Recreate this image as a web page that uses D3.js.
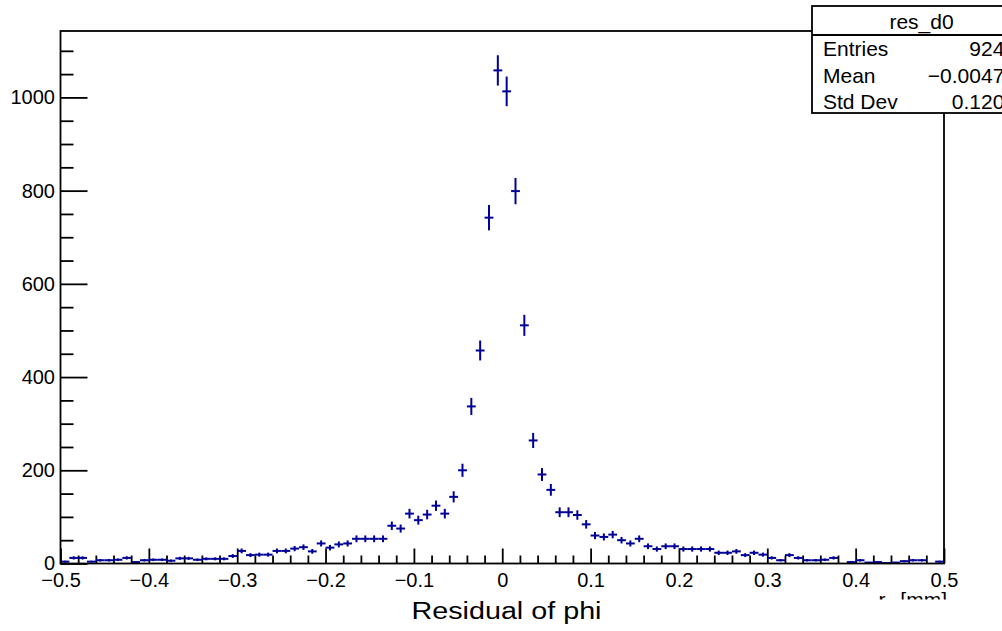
<!DOCTYPE html>
<html>
<head>
<meta charset="utf-8">
<script src="https://cdn.jsdelivr.net/npm/d3@7"></script>
<style>
  html, body { margin: 0; padding: 0; background: #fff; }
  svg { display: block; font-family: "Liberation Sans", Arial, Helvetica, sans-serif; }
</style>
</head>
<body>
<svg id="chart" width="1002" height="631"></svg>
<script>
// ---- Data ----
const histName = "res_d0";
const xMin = -0.5, xMax = 0.5, nBins = 100;
const counts = [
  4, 12, 12, 4, 7, 7, 8, 12, 3, 7,
  8, 8, 6, 11, 11, 8, 10, 10, 10, 16,
  27, 18, 19, 19, 27, 27, 32, 35, 26, 43,
  34, 41, 43, 53, 53, 53, 53, 81, 75, 107,
  93, 105, 124, 107, 143, 200, 337, 457, 742, 1058,
  1013, 799, 511, 264, 191, 158, 110, 110, 104, 84,
  60, 57, 62, 50, 43, 53, 37, 31, 37, 37,
  31, 31, 31, 31, 23, 23, 26, 18, 23, 19,
  12, 7, 18, 12, 7, 7, 8, 12, 0, 3,
  7, 2, 3, 1, 2, 5, 7, 7, 0, 4
];
const xMajorTicks = [-0.5, -0.4, -0.3, -0.2, -0.1, 0, 0.1, 0.2, 0.3, 0.4, 0.5];
const yMajorTicks = [0, 200, 400, 600, 800, 1000];
const yMax = 1142.5;
const statLabels = ["Entries", "Mean", "Std Dev"];
const statValues = ["9245", "\u22120.00471", "0.1203"];
const xTitle = "Residual of phi";

// ---- Layout ----
const svg = d3.select("#chart");
const L = 60.5, R = 944, T = 31, B = 563.5;
const col = "#000099";

const x = d3.scaleLinear().domain([xMin, xMax]).range([L, R]);
const y = d3.scaleLinear().domain([0, yMax]).range([B, T]);

svg.append("rect").attr("width", 1002).attr("height", 631).attr("fill", "#fff");

// minor tick values
const xMinor = d3.range(0, 51).map(i => xMin + i * 0.02).filter(v => !xMajorTicks.some(t => Math.abs(t - v) < 1e-9));
const yMinor = d3.range(0, 23).map(i => i * 50).filter(v => v % 200 !== 0 && v <= yMax);

const fmtX = d => Math.abs(d) < 1e-9 ? "0" : d3.format(".1f")(d);

// X axis: major
const gx = svg.append("g").attr("transform", `translate(0,${B})`)
  .call(d3.axisBottom(x).tickValues(xMajorTicks).tickSize(-15).tickSizeOuter(0).tickPadding(9).tickFormat(fmtX));
gx.select(".domain").remove();
gx.selectAll("line").attr("stroke", "#000").attr("stroke-width", 1.8);
gx.selectAll("text").attr("font-size", 20).attr("fill", "#000")
  .attr("font-family", "Liberation Sans, Arial, sans-serif");

// X axis: minor
const gxm = svg.append("g").attr("transform", `translate(0,${B})`)
  .call(d3.axisBottom(x).tickValues(xMinor).tickSize(-8).tickSizeOuter(0).tickFormat(""));
gxm.select(".domain").remove();
gxm.selectAll("line").attr("stroke", "#000").attr("stroke-width", 1.8);

// Y axis: major
const gy = svg.append("g").attr("transform", `translate(${L},0)`)
  .call(d3.axisLeft(y).tickValues(yMajorTicks).tickSize(-27).tickSizeOuter(0).tickPadding(5.5).tickFormat(d3.format("d")));
gy.select(".domain").remove();
gy.selectAll("line").attr("stroke", "#000").attr("stroke-width", 1.8);
gy.selectAll("text").attr("font-size", 20).attr("fill", "#000")
  .attr("font-family", "Liberation Sans, Arial, sans-serif");

// Y axis: minor
const gym = svg.append("g").attr("transform", `translate(${L},0)`)
  .call(d3.axisLeft(y).tickValues(yMinor).tickSize(-13).tickSizeOuter(0).tickFormat(""));
gym.select(".domain").remove();
gym.selectAll("line").attr("stroke", "#000").attr("stroke-width", 1.8);

// ---- Histogram error-bar markers ----
const bw = (xMax - xMin) / nBins;
const bins = counts.map((c, i) => ({ lo: xMin + i * bw, hi: xMin + (i + 1) * bw, c }));
const gm = svg.append("g").attr("stroke", col).attr("stroke-width", 2).attr("fill", "none");
bins.filter(b => b.c > 0).forEach(b => {
  const e = Math.sqrt(b.c);
  const xc = x((b.lo + b.hi) / 2);
  gm.append("line").attr("x1", x(b.lo)).attr("x2", x(b.hi)).attr("y1", y(b.c)).attr("y2", y(b.c));
  gm.append("line").attr("x1", xc).attr("x2", xc).attr("y1", y(Math.max(0, b.c - e))).attr("y2", y(b.c + e));
});

// ---- Frame ----
svg.append("rect").attr("x", L).attr("y", T).attr("width", R - L).attr("height", B - T)
  .attr("fill", "none").attr("stroke", "#000").attr("stroke-width", 1.8);

// ---- Axis title at right end (clipped) ----
svg.append("clipPath").attr("id", "clipTitle").append("rect")
  .attr("x", 0).attr("y", 0).attr("width", 1002).attr("height", 599.5);
const at = svg.append("text").attr("clip-path", "url(#clipTitle)")
  .attr("x", 947).attr("y", 607).attr("text-anchor", "end").attr("font-size", 21).attr("fill", "#000");
at.append("tspan").text("r");
at.append("tspan").attr("font-size", 14).attr("dy", 5).text("\u03c6");
at.append("tspan").attr("dy", -5).text(" [mm]");

// ---- Main x title ----
svg.append("text").attr("x", 411.5).attr("y", 618.5)
  .attr("font-size", 23.5).attr("fill", "#000")
  .attr("textLength", 190).attr("lengthAdjust", "spacingAndGlyphs")
  .text(xTitle);

// ---- Stats box ----
const sb = { x: 812, y: 6, w: 220, h: 107, hdr: 29 };
const gs = svg.append("g");
gs.append("rect").attr("x", sb.x).attr("y", sb.y).attr("width", sb.w).attr("height", sb.h)
  .attr("fill", "#fff").attr("stroke", "#000").attr("stroke-width", 1.8);
gs.append("line").attr("x1", sb.x).attr("x2", sb.x + sb.w).attr("y1", sb.y + sb.hdr).attr("y2", sb.y + sb.hdr)
  .attr("stroke", "#000").attr("stroke-width", 1.8);
gs.append("text").attr("x", 921.5).attr("y", 29).attr("text-anchor", "middle")
  .attr("font-size", 21).attr("fill", "#000").text(histName);
const rowY = [55.5, 82.5, 109];
statLabels.forEach((lab, i) => {
  gs.append("text").attr("x", 823).attr("y", rowY[i]).attr("font-size", 21).attr("fill", "#000").text(lab);
  gs.append("text").attr("x", 1016).attr("y", rowY[i]).attr("text-anchor", "end")
    .attr("font-size", 21).attr("fill", "#000").text(statValues[i]);
});
</script>
</body>
</html>
